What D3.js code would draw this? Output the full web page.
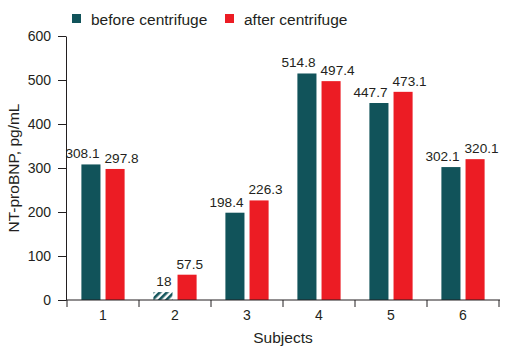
<!DOCTYPE html>
<html>
<head>
<meta charset="utf-8">
<script src="https://cdn.jsdelivr.net/npm/d3@7"></script>
<style>
  body { margin: 0; background: #fff; }
  svg text { font-family: "Liberation Sans", Arial, sans-serif; fill: #231f20; }
</style>
</head>
<body>
<svg></svg>
<script>
const subjects = ["1", "2", "3", "4", "5", "6"]
const before = [308.1, 18, 198.4, 514.8, 447.7, 302.1]
const after = [297.8, 57.5, 226.3, 497.4, 473.1, 320.1]
const seriesNames = ["before centrifuge", "after centrifuge"]
const yTicks = [0, 100, 200, 300, 400, 500, 600]

const width = 506, height = 352
const margin = {left: 67, top: 36, bottom: 52, right: 7}

const teal = "#11535a"
const red = "#ec1c24"
const axisColor = "#231f20"

let svg = d3.select("svg")
    .attr("width", width)
    .attr("height", height)

// hatch for the low (below detection) bar
let defs = svg.append("defs")
let pat = defs.append("pattern")
    .attr("id", "hatch")
    .attr("patternUnits", "userSpaceOnUse")
    .attr("width", 5)
    .attr("height", 5)
    .attr("patternTransform", "rotate(45)")
pat.append("rect").attr("width", 5).attr("height", 5).attr("fill", "#fff")
pat.append("rect").attr("width", 2.6).attr("height", 5).attr("fill", teal)

let x = d3.scaleBand()
    .domain(subjects)
    .range([margin.left, width - margin.right])
    .paddingInner(0.4)
    .paddingOuter(0.2)

let xSub = d3.scaleBand()
    .domain(seriesNames)
    .range([0, x.bandwidth()])
    .paddingInner(0.21)

let y = d3.scaleLinear()
    .domain([0, 600])
    .range([height - margin.bottom, margin.top])

let rows = subjects.map((s, i) => ({subject: s, values: [
    {key: seriesNames[0], v: before[i]},
    {key: seriesNames[1], v: after[i]}
]}))

let groups = svg.selectAll("g.grp")
    .data(rows)
    .enter()
    .append("g")
    .attr("class", "grp")
    .attr("transform", d => `translate(${x(d.subject)},0)`)

groups.selectAll("rect")
    .data(d => d.values.map(v => Object.assign({subject: d.subject}, v)))
    .enter()
    .append("rect")
    .attr("x", d => xSub(d.key))
    .attr("width", xSub.bandwidth())
    .attr("y", d => y(d.v))
    .attr("height", d => y(0) - y(d.v))
    .attr("fill", d => {
        if (d.key == seriesNames[0] && d.subject == "2") return "url(#hatch)"
        return d.key == seriesNames[0] ? teal : red
    })

// value labels: "before" ends at its bar's right edge, "after" starts at its bar's left edge
groups.selectAll("text.val")
    .data(d => d.values)
    .enter()
    .append("text")
    .attr("class", "val")
    .attr("x", (d, i) => i == 0 ? xSub(d.key) + xSub.bandwidth() - 1 : xSub(d.key) - 1)
    .attr("y", d => y(d.v) - 6)
    .attr("text-anchor", (d, i) => i == 0 ? "end" : "start")
    .attr("font-size", 13.6)
    .text(d => d.v)

// y axis
let yAxis = svg.append("g")
    .attr("transform", `translate(${margin.left - 1},0)`)
    .call(d3.axisLeft(y).tickValues(yTicks).tickSize(8).tickPadding(7).tickSizeOuter(0))
yAxis.select(".domain").attr("stroke", axisColor)
yAxis.selectAll(".tick line").attr("stroke", axisColor)
yAxis.selectAll(".tick text").attr("font-size", 14).style("font-family", "Liberation Sans, Arial, sans-serif")

// x axis - ticks sit on band boundaries
let xg = svg.append("g")
xg.append("line")
    .attr("x1", margin.left - 1)
    .attr("x2", width - margin.right + 1)
    .attr("y1", y(0))
    .attr("y2", y(0))
    .attr("stroke", axisColor)
let bounds = subjects.map(s => x(s) - x.step() * 0.2).concat([x(subjects[5]) + x.bandwidth() + x.step() * 0.2])
xg.selectAll("line.tk")
    .data(bounds)
    .enter()
    .append("line")
    .attr("class", "tk")
    .attr("x1", d => d)
    .attr("x2", d => d)
    .attr("y1", y(0))
    .attr("y2", y(0) + 7)
    .attr("stroke", axisColor)
xg.selectAll("text")
    .data(subjects)
    .enter()
    .append("text")
    .attr("x", d => x(d) + x.bandwidth() / 2)
    .attr("y", y(0) + 20)
    .attr("text-anchor", "middle")
    .attr("font-size", 14)
    .text(d => d)

svg.append("text")
    .attr("x", (margin.left + width - margin.right) / 2)
    .attr("y", 343)
    .attr("text-anchor", "middle")
    .attr("font-size", 15.5)
    .text("Subjects")

svg.append("text")
    .attr("transform", `translate(19,${(y(0) + y(600)) / 2}) rotate(-90)`)
    .attr("text-anchor", "middle")
    .attr("font-size", 15.5)
    .text("NT-proBNP, pg/mL")

// legend
let legend = svg.append("g")
let lx = [72, 225]
seriesNames.forEach((n, i) => {
    legend.append("rect")
        .attr("x", lx[i])
        .attr("y", 14)
        .attr("width", 9)
        .attr("height", 9)
        .attr("fill", i == 0 ? teal : red)
    legend.append("text")
        .attr("x", lx[i] + 19)
        .attr("y", 24.5)
        .attr("font-size", 15.5)
        .text(n)
})
</script>
</body>
</html>
